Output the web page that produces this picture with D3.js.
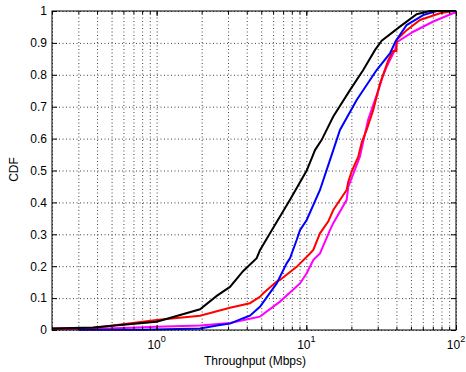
<!DOCTYPE html>
<html>
<head>
<meta charset="utf-8">
<script src="https://cdn.jsdelivr.net/npm/d3@7"></script>
<style>
  body { margin: 0; background: #fff; }
  text { font-family: "Liberation Sans", Arial, sans-serif; fill: #000; }
</style>
</head>
<body>
<div id="chart"></div>
<script>
// CDF curves: [throughput Mbps, cdf]
var blackCdf = [[0.2, 0.005], [0.376, 0.008], [1.0, 0.026], [1.95, 0.065], [2.52, 0.107], [3.09, 0.135],
  [3.79, 0.185], [4.66, 0.225], [4.9, 0.25], [5.72, 0.303], [7.78, 0.408], [10.06, 0.5], [10.86, 0.538],
  [11.43, 0.564], [12.67, 0.596], [15.14, 0.669], [19.57, 0.752], [24.0, 0.815], [28.8, 0.878],
  [31.9, 0.907], [42.2, 0.951], [54.6, 0.99], [67, 1.0], [100, 1.0]];
var blueCdf = [[0.3, 0.001], [0.81, 0.001], [1.95, 0.005], [2.65, 0.016], [3.09, 0.02], [3.79, 0.037],
  [4.2, 0.045], [4.9, 0.073], [6.34, 0.146], [7.39, 0.209], [7.78, 0.225], [8.62, 0.282], [9.07, 0.313],
  [10.06, 0.345], [12.34, 0.439], [15.14, 0.564], [16.78, 0.627], [21.7, 0.721], [29.5, 0.815],
  [36.2, 0.867], [39.5, 0.905], [46.8, 0.956], [60.4, 0.987], [74.3, 1.0], [100, 1.0]];
var redCdf = [[0.2, 0.005], [0.376, 0.006], [1.0, 0.031], [1.95, 0.045], [3.09, 0.07], [4.2, 0.084],
  [4.9, 0.104], [5.16, 0.115], [6.34, 0.152], [6.67, 0.157], [8.62, 0.198], [10.58, 0.24], [11.13, 0.251],
  [12.34, 0.303], [14.0, 0.34], [15.14, 0.376], [18.6, 0.439], [19.07, 0.465], [20.2, 0.5], [22.24, 0.543],
  [23.5, 0.59], [25.3, 0.627], [28.0, 0.69], [31.1, 0.773], [35.3, 0.846], [38.1, 0.875], [40.0, 0.875],
  [40.2, 0.91], [46.8, 0.94], [57.5, 0.972], [78.1, 0.993], [95.4, 1.0], [100, 1.0]];
var magentaCdf = [[0.2, 0.002], [0.376, 0.003], [1.0, 0.01], [1.95, 0.014], [3.09, 0.022], [4.2, 0.035],
  [4.9, 0.042], [6.67, 0.089], [9.07, 0.146], [10.06, 0.178], [11.13, 0.219], [11.43, 0.225], [12.34, 0.24],
  [14.39, 0.313], [15.14, 0.335], [18.6, 0.408], [19.07, 0.449], [22.8, 0.543], [25.9, 0.66], [30.3, 0.752],
  [32.7, 0.8], [34.4, 0.825], [39.1, 0.878], [40.2, 0.902], [51.8, 0.935], [70.5, 0.967], [95.4, 0.993],
  [100, 0.995]];

var yTicks = [0, 0.1, 0.2, 0.3, 0.4, 0.5, 0.6, 0.7, 0.8, 0.9, 1];
var xMajor = [1, 10, 100];
var xExponents = ["0", "1", "2"];

var svgWidth = 466;
var svgHeight = 372;
var margin = { top: 11, right: 10, bottom: 42, left: 52 };
var width = svgWidth - margin.left - margin.right;
var height = svgHeight - margin.top - margin.bottom;

var svg = d3.select("#chart").append("svg")
  .attr("width", svgWidth)
  .attr("height", svgHeight);

var chartGroup = svg.append("g").attr("transform", `translate(${margin.left}, ${margin.top})`);

var xScale = d3.scaleLog().domain([0.2, 100]).range([0, width]);
var yScale = d3.scaleLinear().domain([0, 1]).range([height, 0]);

// minor positions on the log axis
var xMinor = [];
[0.1, 1, 10].forEach(function(d) {
  for (var k = 1; k <= 9; k++) {
    var v = +(d * k).toPrecision(3);
    if (v >= 0.2 && v <= 100) xMinor.push(v);
  }
});
xMinor.push(100);

// dotted grid
chartGroup.append("g").attr("class", "grid")
  .attr("transform", `translate(0, ${height})`)
  .call(d3.axisBottom(xScale).tickValues(xMinor).tickSize(-height).tickFormat(""));
chartGroup.append("g").attr("class", "grid")
  .call(d3.axisLeft(yScale).tickValues(yTicks).tickSize(-width).tickFormat(""));
chartGroup.selectAll(".grid .domain").remove();
chartGroup.selectAll(".grid line")
  .attr("stroke", "#000")
  .attr("stroke-opacity", 0.75)
  .attr("stroke-dasharray", "1,2.5");

// curves
var line = d3.line()
  .x(function(d) { return xScale(d[0]); })
  .y(function(d) { return yScale(d[1]); });

var series = [
  { data: magentaCdf, color: "#ff00ff" },
  { data: redCdf, color: "#ff0000" },
  { data: blueCdf, color: "#0000ff" },
  { data: blackCdf, color: "#000000" }
];

chartGroup.selectAll("path.curve")
  .data(series)
  .enter()
  .append("path")
  .attr("class", "curve")
  .attr("d", function(s) { return line(s.data); })
  .attr("fill", "none")
  .attr("stroke", function(s) { return s.color; })
  .attr("stroke-width", 2);

// box
chartGroup.append("rect")
  .attr("width", width)
  .attr("height", height)
  .attr("fill", "none")
  .attr("stroke", "#000")
  .attr("stroke-width", 1);

// inward ticks, major and minor
chartGroup.append("g")
  .attr("transform", `translate(0, ${height})`)
  .call(d3.axisBottom(xScale).tickValues(xMajor).tickSize(-5).tickFormat(""));
chartGroup.append("g")
  .attr("transform", `translate(0, ${height})`)
  .call(d3.axisBottom(xScale).tickValues(xMinor).tickSize(-3).tickFormat(""));
chartGroup.append("g")
  .call(d3.axisTop(xScale).tickValues(xMajor).tickSize(-5).tickFormat(""));
chartGroup.append("g")
  .call(d3.axisTop(xScale).tickValues(xMinor).tickSize(-3).tickFormat(""));
var leftAxis = chartGroup.append("g")
  .call(d3.axisLeft(yScale).tickValues(yTicks).tickSize(-5).tickPadding(6).tickFormat(function(d) { return d3.format("")(d); }));
chartGroup.append("g")
  .attr("transform", `translate(${width}, 0)`)
  .call(d3.axisRight(yScale).tickValues(yTicks).tickSize(-5).tickFormat(""));
chartGroup.selectAll(".domain").remove();
chartGroup.selectAll(".tick line").filter(function() { return !this.closest(".grid"); })
  .attr("stroke", "#000");

leftAxis.selectAll("text")
  .style("font-size", "12px")
  .attr("x", -5);

// x tick labels as 10 with a superscript
var xLabels = chartGroup.selectAll("text.xlab")
  .data(xMajor)
  .enter()
  .append("text")
  .attr("class", "xlab")
  .attr("x", function(d) { return xScale(d); })
  .attr("y", height + 19)
  .style("text-anchor", "middle")
  .style("font-size", "12px");
xLabels.append("tspan").text("10");
xLabels.append("tspan")
  .attr("dy", -7)
  .style("font-size", "9px")
  .text(function(d, i) { return xExponents[i]; });

// axis titles
chartGroup.append("text")
  .attr("transform", "rotate(-90)")
  .attr("x", -height / 2 + 1)
  .attr("y", -margin.left + 18)
  .style("text-anchor", "middle")
  .style("font-size", "12px")
  .text("CDF");

chartGroup.append("text")
  .attr("x", width / 2 + 1)
  .attr("y", height + 35)
  .style("text-anchor", "middle")
  .style("font-size", "12px")
  .text("Throughput (Mbps)");
</script>
</body>
</html>
